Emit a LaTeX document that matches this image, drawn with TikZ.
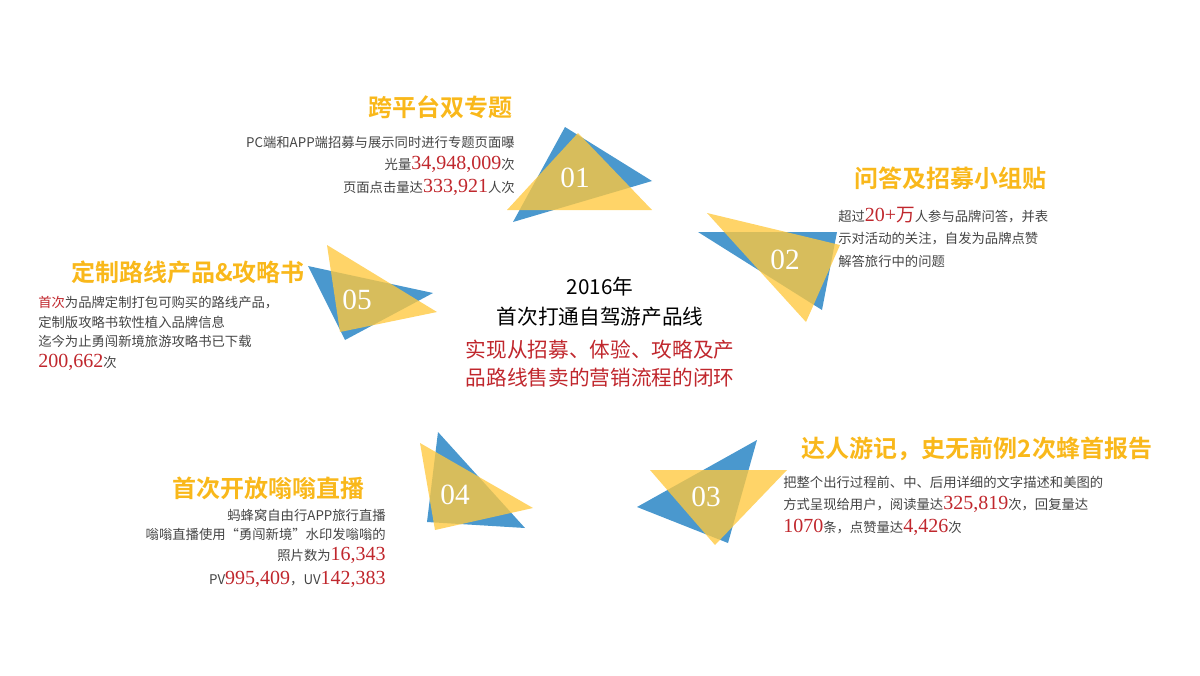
\documentclass[tikz,border=0pt]{standalone}
\usepackage{fontspec}
\setmainfont{Liberation Serif}
\newfontfamily\cjk{Noto Sans CJK SC}
\newfontfamily\cjkb{Noto Sans CJK SC Bold}
\newfontfamily\numf{Liberation Serif}
\definecolor{tblue}{HTML}{4A98CE}
\definecolor{tyel}{HTML}{FFC83D}
\definecolor{ttitle}{HTML}{F9B81B}
\definecolor{tred}{HTML}{C0272D}
\definecolor{tgray}{HTML}{444444}
\newcommand{\R}[1]{{\color{tred}\numf\fontsize{15}{15}\selectfont #1}}
\begin{document}
\begin{tikzpicture}[x=0.75pt,y=-0.75pt,
  bt/.style={fill=tblue},
  yt/.style={fill=tyel,fill opacity=0.78},
  num/.style={text=white,font=\numf\fontsize{22}{22}\selectfont},
  ttl/.style={text=ttitle,font=\cjkb\fontsize{18}{18}\selectfont},
  bodyl/.style={text=tgray,font=\cjk\fontsize{10}{10}\selectfont,anchor=west,inner sep=0},
  bodyr/.style={text=tgray,font=\cjk\fontsize{10}{10}\selectfont,anchor=east,inner sep=0},
  ctr/.style={font=\cjk\fontsize{15.5}{15.5}\selectfont,inner sep=0}]
\useasboundingbox (0,0) rectangle (1200,675);
% 01
\fill[bt] (565,127) -- (652,181) -- (513,222) -- cycle;
\fill[yt] (578,133) -- (652,210) -- (507,210) -- cycle;
\node[num] (n1) at (575,178) {01};
% 02
\fill[bt] (698,232) -- (837,232) -- (822,310) -- cycle;
\fill[yt] (707,213) -- (840,245) -- (806,322) -- cycle;
\node[num] (n2) at (785,260) {02};
% 05
\fill[bt] (308,266) -- (433,293) -- (345,340) -- cycle;
\fill[yt] (327,245) -- (437,312) -- (340,332) -- cycle;
\node[num] (n5) at (357,300) {05};
% 04
\fill[bt] (438,432) -- (525,528) -- (427,522) -- cycle;
\fill[yt] (420,443) -- (533,508) -- (435,530) -- cycle;
\node[num] (n4) at (455,495) {04};
% 03
\fill[bt] (757,440) -- (637,507) -- (728,543) -- cycle;
\fill[yt] (650,470) -- (787,470) -- (715,545) -- cycle;
\node[num] (n3) at (706,497) {03};
% center
\node[ctr] (c1) at (600,287) {2016年};
\node[ctr] (c2) at (600,317) {首次打通自驾游产品线};
\node[ctr,text=tred] (c3) at (600,350) {实现从招募、体验、攻略及产};
\node[ctr,text=tred] (c4) at (600,378) {品路线售卖的营销流程的闭环};
% 01 text
\node[ttl] (t1) at (440,107) {跨平台双专题};
\node[bodyr] (b11) at (515,142) {PC端和APP端招募与展示同时进行专题页面曝};
\node[bodyr] (b12) at (515,164) {光量\R{34,948,009}次};
\node[bodyr] (b13) at (515,187) {页面点击量达\R{333,921}人次};
% 02 text
\node[ttl] (t2) at (950,178) {问答及招募小组贴};
\node[bodyl] (b21) at (838,215) {超过\R{20+}{\color{tred}\cjk\fontsize{14}{14}\selectfont 万}人参与品牌问答，并表};
\node[bodyl] (b22) at (838,239) {示对活动的关注，自发为品牌点赞};
\node[bodyl] (b23) at (838,261) {解答旅行中的问题};
% 05 text
\node[ttl] (t5) at (188,272) {定制路线产品\&攻略书};
\node[bodyl] (b51) at (38,303) {{\color{tred}首次}为品牌定制打包可购买的路线产品，};
\node[bodyl] (b52) at (38,322) {定制版攻略书软性植入品牌信息};
\node[bodyl] (b53) at (38,341) {迄今为止勇闯新境旅游攻略书已下载};
\node[bodyl] (b54) at (38,362) {\R{200,662}次};
% 04 text
\node[ttl] (t4) at (268,488) {首次开放嗡嗡直播};
\node[bodyr] (b41) at (386,515) {蚂蜂窝自由行APP旅行直播};
\node[bodyr] (b42) at (386,534) {嗡嗡直播使用“勇闯新境”水印发嗡嗡的};
\node[bodyr] (b43) at (386,555) {照片数为\R{16,343}};
\node[bodyr] (b44) at (386,579) {PV\R{995,409}，UV\R{142,383}};
% 03 text
\node[ttl] (t3) at (977,449) {达人游记，史无前例2次蜂首报告};
\node[bodyl] (b31) at (783,482) {把整个出行过程前、中、后用详细的文字描述和美图的};
\node[bodyl] (b32) at (783,504) {方式呈现给用户，阅读量达\R{325,819}次，回复量达};
\node[bodyl] (b33) at (783,527) {\R{1070}条，点赞量达\R{4,426}次};
\end{tikzpicture}
\end{document}
